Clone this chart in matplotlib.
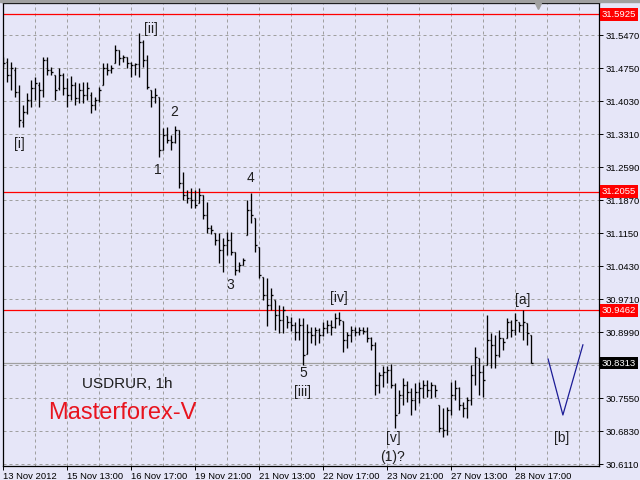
import numpy as np
import matplotlib.pyplot as plt
from matplotlib.transforms import blended_transform_factory, offset_copy

plt.rcParams['font.family'] = ['Liberation Sans', 'DejaVu Sans']

# USDRUR 1h bars
opens = [
    31.492, 31.488, 31.460, 31.471, 31.423, 31.357, 31.379, 31.405, 31.431, 31.438,
    31.427, 31.492, 31.471, 31.460, 31.431, 31.460, 31.431, 31.416, 31.438, 31.410,
    31.427, 31.416, 31.416, 31.394, 31.405, 31.438, 31.475, 31.471, 31.486, 31.514,
    31.497, 31.499, 31.486, 31.482, 31.484, 31.532, 31.492, 31.427, 31.412, 31.412,
    31.296, 31.329, 31.318, 31.314, 31.340, 31.224, 31.198, 31.191, 31.187, 31.180,
    31.198, 31.154, 31.126, 31.115, 31.100, 31.078, 31.089, 31.100, 31.074, 31.034,
    31.045, 31.111, 31.165, 31.148, 31.085, 31.019, 30.980, 30.958, 30.969, 30.936,
    30.925, 30.934, 30.921, 30.914, 30.899, 30.914, 30.851, 30.899, 30.893, 30.903,
    30.893, 30.908, 30.914, 30.910, 30.930, 30.923, 30.882, 30.893, 30.903, 30.899,
    30.903, 30.901, 30.886, 30.871, 30.783, 30.805, 30.812, 30.816, 30.783, 30.722,
    30.762, 30.783, 30.768, 30.751, 30.768, 30.777, 30.783, 30.773, 30.783, 30.740,
    30.690, 30.685, 30.729, 30.762, 30.777, 30.740, 30.733, 30.751, 30.805, 30.842,
    30.812, 30.827, 30.882, 30.871, 30.849, 30.886, 30.886, 30.921, 30.903, 30.921,
    30.914, 30.919, 30.893]
highs = [
    31.499, 31.497, 31.488, 31.477, 31.438, 31.394, 31.421, 31.449, 31.455, 31.445,
    31.499, 31.499, 31.477, 31.460, 31.475, 31.464, 31.453, 31.458, 31.445, 31.442,
    31.445, 31.445, 31.423, 31.412, 31.434, 31.486, 31.486, 31.482, 31.525, 31.514,
    31.503, 31.499, 31.488, 31.486, 31.551, 31.536, 31.503, 31.427, 31.431, 31.412,
    31.344, 31.346, 31.329, 31.349, 31.340, 31.248, 31.209, 31.213, 31.209, 31.213,
    31.198, 31.183, 31.133, 31.115, 31.115, 31.104, 31.117, 31.117, 31.074, 31.052,
    31.061, 31.187, 31.202, 31.148, 31.085, 31.019, 31.017, 30.995, 30.969, 30.958,
    30.956, 30.934, 30.932, 30.921, 30.930, 30.930, 30.917, 30.910, 30.910, 30.908,
    30.921, 30.925, 30.925, 30.940, 30.943, 30.923, 30.899, 30.912, 30.910, 30.910,
    30.910, 30.910, 30.888, 30.877, 30.812, 30.825, 30.825, 30.829, 30.788, 30.773,
    30.799, 30.792, 30.777, 30.788, 30.790, 30.794, 30.794, 30.790, 30.783, 30.740,
    30.733, 30.735, 30.790, 30.794, 30.779, 30.746, 30.757, 30.827, 30.866, 30.842,
    30.827, 30.936, 30.897, 30.893, 30.903, 30.886, 30.930, 30.925, 30.940, 30.921,
    30.947, 30.919, 30.893]
lows = [
    31.477, 31.445, 31.427, 31.412, 31.346, 31.346, 31.375, 31.390, 31.405, 31.390,
    31.412, 31.460, 31.460, 31.405, 31.427, 31.416, 31.390, 31.405, 31.394, 31.399,
    31.399, 31.405, 31.377, 31.383, 31.401, 31.438, 31.460, 31.464, 31.486, 31.482,
    31.488, 31.475, 31.455, 31.460, 31.455, 31.477, 31.429, 31.390, 31.399, 31.281,
    31.296, 31.311, 31.296, 31.311, 31.213, 31.187, 31.180, 31.170, 31.170, 31.180,
    31.146, 31.115, 31.113, 31.089, 31.050, 31.030, 31.067, 31.067, 31.023, 31.030,
    31.045, 31.111, 31.137, 31.074, 31.017, 30.969, 30.912, 30.947, 30.903, 30.897,
    30.897, 30.908, 30.901, 30.882, 30.882, 30.827, 30.851, 30.875, 30.871, 30.875,
    30.890, 30.897, 30.893, 30.908, 30.914, 30.855, 30.864, 30.877, 30.890, 30.893,
    30.895, 30.877, 30.860, 30.762, 30.766, 30.779, 30.788, 30.777, 30.690, 30.722,
    30.740, 30.746, 30.718, 30.729, 30.744, 30.755, 30.757, 30.755, 30.757, 30.681,
    30.670, 30.674, 30.718, 30.751, 30.729, 30.714, 30.711, 30.740, 30.783, 30.762,
    30.757, 30.827, 30.820, 30.820, 30.844, 30.860, 30.886, 30.888, 30.893, 30.899,
    30.882, 30.871, 30.831]
closes = [
    31.486, 31.460, 31.475, 31.423, 31.362, 31.379, 31.405, 31.431, 31.442, 31.427,
    31.492, 31.471, 31.466, 31.427, 31.460, 31.431, 31.416, 31.438, 31.410, 31.427,
    31.416, 31.431, 31.394, 31.405, 31.427, 31.475, 31.471, 31.475, 31.514, 31.497,
    31.499, 31.486, 31.482, 31.484, 31.532, 31.492, 31.434, 31.412, 31.416, 31.296,
    31.329, 31.318, 31.314, 31.340, 31.224, 31.198, 31.191, 31.187, 31.176, 31.198,
    31.154, 31.126, 31.122, 31.100, 31.078, 31.089, 31.100, 31.074, 31.034, 31.045,
    31.056, 31.165, 31.154, 31.089, 31.023, 30.980, 30.958, 30.980, 30.936, 30.925,
    30.947, 30.921, 30.914, 30.899, 30.914, 30.849, 30.899, 30.893, 30.903, 30.893,
    30.908, 30.914, 30.910, 30.930, 30.925, 30.882, 30.893, 30.903, 30.899, 30.903,
    30.901, 30.886, 30.871, 30.783, 30.805, 30.812, 30.816, 30.783, 30.718, 30.762,
    30.783, 30.768, 30.751, 30.768, 30.777, 30.783, 30.773, 30.783, 30.773, 30.690,
    30.685, 30.729, 30.762, 30.777, 30.740, 30.733, 30.751, 30.805, 30.844, 30.812,
    30.794, 30.882, 30.871, 30.849, 30.886, 30.877, 30.921, 30.903, 30.925, 30.914,
    30.921, 30.897, 30.8313]

price_ticks = [31.5470, 31.4750, 31.4030, 31.3310, 31.2590, 31.1870, 31.1150,
               31.0430, 30.9710, 30.8990, 30.8270, 30.7550, 30.6830, 30.6110]
red_levels = [31.5925, 31.2055, 30.9462]
last_price = 30.8313

time_labels = ['13 Nov 2012', '15 Nov 13:00', '16 Nov 17:00', '19 Nov 21:00',
               '21 Nov 13:00', '22 Nov 17:00', '23 Nov 21:00', '27 Nov 13:00',
               '28 Nov 17:00']
time_bars = [0, 16, 32, 48, 64, 80, 96, 112, 128]

wave_labels = ['[i]', '[ii]', '1', '2', '3', '4', '5', '[iii]', '[iv]', '[v]', '(1)?', '[a]', '[b]']
wave_bars = [3.9, 36.8, 38.7, 42.8, 56.8, 61.7, 74.9, 74.7, 83.9, 97.4, 97.2, 129.8, 139.7]
wave_prices = [31.309, 31.560, 31.252, 31.379, 31.002, 31.235, 30.810, 30.768,
               30.973, 30.668, 30.626, 30.969, 30.668]

# projected [b] leg
proj_bars = [136.2, 139.9, 144.9]
proj_prices = [30.840, 30.718, 30.871]

bg = '#E6E6F8'
grid_c = '#A0A0A0'

fig = plt.figure(figsize=(6.4, 4.8), dpi=100, facecolor=bg)
ax = fig.add_axes([3 / 640, 14 / 480, 596 / 640, 462.7 / 480], facecolor=bg)

for k in range(8, 149, 8):
    ax.axvline(k, color=grid_c, lw=0.72, ls=(0, (3, 3)), zorder=1)
for p in price_ticks:
    ax.axhline(p, color=grid_c, lw=0.72, ls=(0, (3, 3)), zorder=1)

ax.axhline(last_price, color=grid_c, lw=0.9, zorder=1.5)
for p in red_levels:
    ax.axhline(p, color='#FF0000', lw=0.9, zorder=2)

bars = np.arange(len(opens))
ax.vlines(bars, lows, highs, color='black', lw=0.95, zorder=3)
ax.hlines(opens, bars - 0.45, bars, color='black', lw=0.95, zorder=3)
ax.hlines(closes, bars, bars + 0.45, color='black', lw=0.95, zorder=3)

ax.plot(proj_bars, proj_prices, color='#1C1C96', lw=0.9, zorder=3)

for txt, xb, yp in zip(wave_labels, wave_bars, wave_prices):
    ax.text(xb, yp, txt, ha='center', va='center', fontsize=10, color='#1E1E1E', zorder=4)

ax.text(30.9, 30.786, 'USDRUR, 1h', ha='center', va='center', fontsize=11, color='#1E1E1E')
ax.text(29.7, 30.722, 'Masterforex-V', ha='center', va='center', fontsize=17, color='#E8141E')

ax.set_xlim(-0.075, 148.925)
ax.set_ylim(30.6067, 31.6162)

# the 30.8270 label sits under the last-price box, so it stays blank
ax.yaxis.tick_right()
ax.set_yticks(price_ticks)
ax.set_yticklabels(['' if abs(p - last_price) < 0.01 else f'{p:.4f}' for p in price_ticks])
ax.tick_params(axis='y', direction='out', length=3, width=0.7, pad=2, labelsize=6.8)

ax.set_xticks(time_bars)
ax.set_xticklabels(time_labels, ha='left')
ax.tick_params(axis='x', direction='out', length=3, width=0.7, pad=1, labelsize=6.8)

for s in ax.spines.values():
    s.set_color('black')
    s.set_linewidth(0.9)

trans = offset_copy(blended_transform_factory(ax.transAxes, ax.transData),
                    fig=fig, x=3, y=0, units='dots')
for p in red_levels:
    ax.text(1.0, p, f'{p:.4f}', transform=trans, color='white', fontsize=6.8,
            ha='left', va='center', clip_on=False, zorder=5,
            bbox=dict(boxstyle='square,pad=0.2', fc='#FF0000', ec='none'))
ax.text(1.0, last_price, f'{last_price:.4f}', transform=trans, color='white', fontsize=6.8,
        ha='left', va='center', clip_on=False, zorder=5,
        bbox=dict(boxstyle='square,pad=0.2', fc='black', ec='none'))

# chart shift marker at the top edge
ax.plot([133.7], [31.611], marker='v', color=grid_c, ms=5, clip_on=False, zorder=5)
fig.add_artist(plt.Rectangle((0, 478 / 480), 1, 2 / 480, transform=fig.transFigure,
                             color=grid_c))

fig.savefig('out.png', dpi=100, facecolor=bg)
